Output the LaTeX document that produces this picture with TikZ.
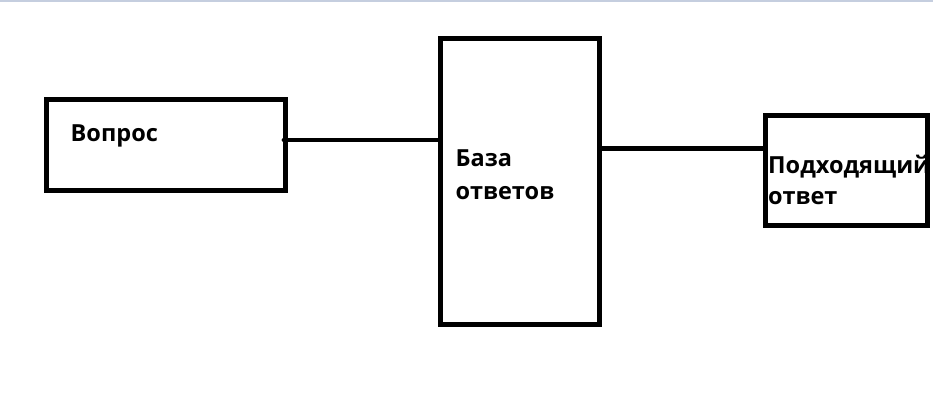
\documentclass[tikz,border=0pt]{standalone}
\usepackage{fontspec}
\setmainfont{Open Sans}
\begin{document}
\begin{tikzpicture}[x=1bp,y=-1bp,
  box/.style={draw=black,line width=5bp,rectangle,inner sep=0pt},
  lbl/.style={anchor=base west,inner sep=0pt,font=\fontsize{23.6}{30}\selectfont\bfseries},
  wire/.style={draw=black,line width=4.8bp}]
\useasboundingbox (0,0) rectangle (933,410);
\fill[white] (0,0) rectangle (933,410);
\fill[color={rgb,255:red,197;green,206;blue,223}] (0,0) rectangle (933,2);
\node[box,minimum width=239bp,minimum height=91bp] (q) at (166,144.5) {};
\node[box,minimum width=159bp,minimum height=286.7bp] (db) at (519.5,181.4) {};
\node[box,minimum width=162.5bp,minimum height=109.5bp] (ans) at (846.25,170.25) {};
\node[lbl] (tq) at (70.5,141) {Вопрос};
\node[lbl] (tdb1) at (455.5,166) {База};
\node[lbl] (tdb2) at (455.5,199) {ответов};
\node[lbl] (ta1) at (768,173) {Подходящий};
\node[lbl] (ta2) at (768,204) {ответ};
\draw[wire,line cap=round] ([xshift=-4bp]q.east|-0,140) -- (db.west|-0,140);
\draw[wire] (db.east|-0,148.5) -- (ans.west|-0,148.5);
\end{tikzpicture}
\end{document}
